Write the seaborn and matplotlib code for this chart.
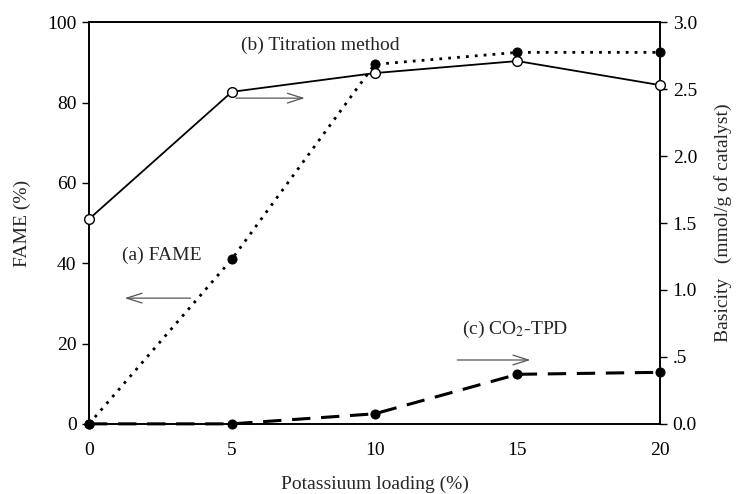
import matplotlib
matplotlib.use("Agg")
import matplotlib.pyplot as plt
import seaborn as sns
import pandas as pd

# Data
loading = [0, 5, 10, 15, 20]
fame = [0, 41, 89.5, 92.5, 92.5]                 # left axis (%)
titration = [1.53, 2.48, 2.62, 2.71, 2.53]        # right axis (mmol/g)
co2_tpd = [0.0, 0.0, 0.075, 0.37, 0.385]          # right axis (mmol/g)
left_ticks = [0, 20, 40, 60, 80, 100]
right_ticks = [0.0, 0.5, 1.0, 1.5, 2.0, 2.5, 3.0]
right_labels = ["0.0", ".5", "1.0", "1.5", "2.0", "2.5", "3.0"]
x_ticks = [0, 5, 10, 15, 20]

sns.set_style("white")
plt.rcParams['font.family'] = ['Liberation Serif', 'DejaVu Serif']
plt.rcParams['mathtext.fontset'] = 'stix'

df = pd.DataFrame({"x": loading, "fame": fame, "tit": titration, "co2": co2_tpd})

FS = 14

fig = plt.figure(figsize=(7.36, 4.94), dpi=100)
ax = fig.add_axes([0.121, 0.142, 0.776, 0.813])
ax2 = ax.twinx()

sns.lineplot(data=df, x="x", y="fame", ax=ax, color="black", linestyle=(0, (1, 2.2)),
             linewidth=2.0, marker="o", markersize=6.5, markerfacecolor="black",
             markeredgecolor="black", clip_on=False, zorder=3)
sns.lineplot(data=df, x="x", y="tit", ax=ax2, color="black", linestyle="-",
             linewidth=1.3, marker="o", markersize=7, markerfacecolor="white",
             markeredgecolor="black", markeredgewidth=1.0, clip_on=False, zorder=4)
sns.lineplot(data=df, x="x", y="co2", ax=ax2, color="black", linestyle=(0, (6, 3.5)),
             linewidth=2.2, marker="o", markersize=6.5, markerfacecolor="black",
             markeredgecolor="black", clip_on=False, zorder=3)

ax.set_xlim(0, 20)
ax.set_ylim(0, 100)
ax2.set_ylim(0, 3.0)
ax.set_xticks(x_ticks)
ax.set_xticklabels([str(t) for t in x_ticks])
ax.set_yticks(left_ticks)
ax2.set_yticks(right_ticks)
ax2.set_yticklabels(right_labels)

for a in (ax, ax2):
    for s in a.spines.values():
        s.set_color("black")
        s.set_linewidth(1.2)
    a.tick_params(direction="out", length=5, width=1.0, labelsize=FS, colors="black")
ax.tick_params(axis="x", pad=8)
ax.tick_params(axis="y", pad=4)
ax2.tick_params(axis="y", pad=4)

ax.set_xlabel("Potassiuum loading (%)", fontsize=FS, labelpad=12)
ax.set_ylabel("FAME (%)", fontsize=FS, labelpad=12)
ax2.set_ylabel("Basicity   (mmol/g of catalyst)", fontsize=FS, labelpad=12)

# annotations
ax.text(8.1, 94.3, "(b) Titration method", fontsize=FS, ha="center", va="center")
ax.text(2.56, 42.0, "(a) FAME", fontsize=FS, ha="center", va="center")
ax.text(13.05, 23.4, "(c) CO$_2$-TPD", fontsize=FS, ha="left", va="center")

arrow_kw = dict(arrowstyle="->,head_length=1.1,head_width=0.35", color="#555555", lw=0.9)
ax.annotate("", xy=(7.65, 81.1), xytext=(5.05, 81.1), arrowprops=arrow_kw)
ax.annotate("", xy=(1.15, 31.3), xytext=(3.65, 31.3), arrowprops=arrow_kw)
ax.annotate("", xy=(15.55, 15.9), xytext=(12.8, 15.9), arrowprops=arrow_kw)

fig.savefig("out.png", dpi=100)
